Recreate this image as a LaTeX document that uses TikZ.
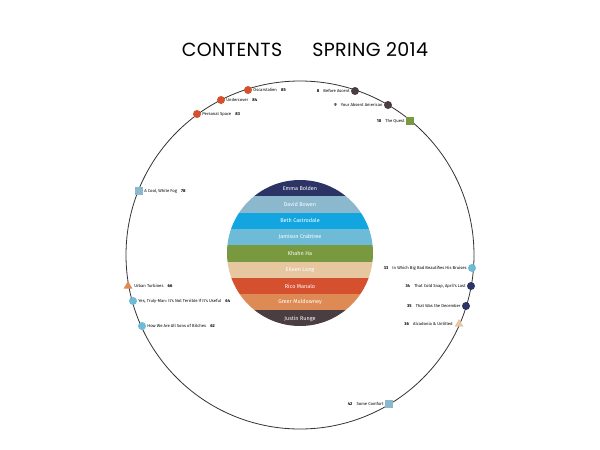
\documentclass[tikz,border=0pt]{standalone}
\usepackage{fontspec}
\usetikzlibrary{shapes.geometric}
\setmainfont{Poppins}
\newfontfamily\lab{Fira Sans}
\begin{document}
\begin{tikzpicture}[x=1pt,y=-1pt]
\definecolor{cnavy}{HTML}{2B3464}
\definecolor{cgrey}{HTML}{8BB8CC}
\definecolor{cblue}{HTML}{12A5E0}
\definecolor{clb}{HTML}{6DBBD6}
\definecolor{cgreen}{HTML}{78993F}
\definecolor{cpeach}{HTML}{E6C7A0}
\definecolor{cred}{HTML}{D4502F}
\definecolor{corange}{HTML}{DE8A55}
\definecolor{cbrown}{HTML}{4B3E43}
\tikzset{
 dotm/.style={circle,fill=#1,minimum size=8pt,inner sep=0pt},
 sqm/.style={rectangle,fill=#1,minimum size=8pt,inner sep=0pt},
 trim/.style={regular polygon,regular polygon sides=3,fill=#1,minimum size=10pt,inner sep=0pt},
 lbl/.style={font=\lab\fontsize{4.2}{5}\selectfont,inner sep=1pt},
 nm/.style={font=\lab\fontsize{5.5}{6}\selectfont,text=white},
}
\useasboundingbox (0,0) rectangle (600,450);
\node[font=\fontsize{19}{22}\selectfont\addfontfeature{LetterSpace=2}] (title) at (305,50) {CONTENTS\hspace{30pt}SPRING 2014};
\coordinate (c) at (300,255);
\draw[line width=0.8pt,black!80] (c) circle[radius=174];
% stripes
\begin{scope}
\clip (300,253) circle[radius=73];
\foreach \col [count=\i from 0] in {cnavy,cgrey,cblue,clb,cgreen,cpeach,cred,corange,cbrown}
 \fill[\col] (220,180+\i*16.3) rectangle (380,180+\i*16.3+16.3);
\end{scope}
\foreach \t [count=\i from 0] in {Emma Bolden,David Bowen,Beth Castrodale,Jamison Crabtree,Khahn Ha,Eileen Long,Rico Manalo,Greer Muldowney,Justin Runge}
 \node[nm] (n\i) at (300,188.2+\i*16.3) {\t};
% markers
\node[dotm=cred] (m1) at (197,114) {};
\node[lbl,anchor=west] at (m1.east) {Personal Space\quad\textbf{83}};
\node[dotm=cred] (m2) at (221,100) {};
\node[lbl,anchor=west] at (m2.east) {Undercover\quad\textbf{84}};
\node[dotm=cred] (m3) at (248,90) {};
\node[lbl,anchor=west] at (m3.east) {Oscarstalien\quad\textbf{85}};
\node[dotm=cbrown] (m4) at (355,91) {};
\node[lbl,anchor=east] at (m4.west) {\textbf{8}\quad Before Ascent};
\node[dotm=cbrown] (m5) at (388,105) {};
\node[lbl,anchor=east] at (m5.west) {\textbf{9}\quad Your Absent American};
\node[sqm=cgreen] (m6) at (410,121) {};
\node[lbl,anchor=east] at (m6.west) {\textbf{10}\quad The Quest};
\node[sqm=cgrey] (m7) at (139,191) {};
\node[lbl,anchor=west] at (m7.east) {A Cool, White Fog\quad\textbf{78}};
\node[trim=corange] (m8) at (128,286) {};
\node[lbl,anchor=west] at ([xshift=2pt]m8.east) {Urban Turbines\quad\textbf{66}};
\node[dotm=clb] (m9) at (133,301) {};
\node[lbl,anchor=west] at (m9.east) {Yes, Truly-Man: It's Not Terrible If It's Useful\quad\textbf{64}};
\node[dotm=clb] (m10) at (142,326) {};
\node[lbl,anchor=west] at (m10.east) {How We Are All Sons of Bitches\quad\textbf{62}};
\node[dotm=clb] (m11) at (472,268) {};
\node[lbl,anchor=east] at (m11.west) {\textbf{33}\quad In Which Big Bad Beautifies His Bruises};
\node[dotm=cnavy] (m12) at (471,286) {};
\node[lbl,anchor=east] at (m12.west) {\textbf{34}\quad That Cold Snap, April's Last};
\node[dotm=cnavy] (m13) at (466,306) {};
\node[lbl,anchor=east] at (m13.west) {\textbf{35}\quad That Was the December};
\node[trim=cpeach] (m14) at (459,324) {};
\node[lbl,anchor=east] at ([xshift=-2pt]m14.west) {\textbf{36}\quad Alcadonia \& Untitled};
\node[sqm=cgrey] (m15) at (389,404) {};
\node[lbl,anchor=east] at (m15.west) {\textbf{42}\quad Some Comfort};
\end{tikzpicture}
\end{document}
